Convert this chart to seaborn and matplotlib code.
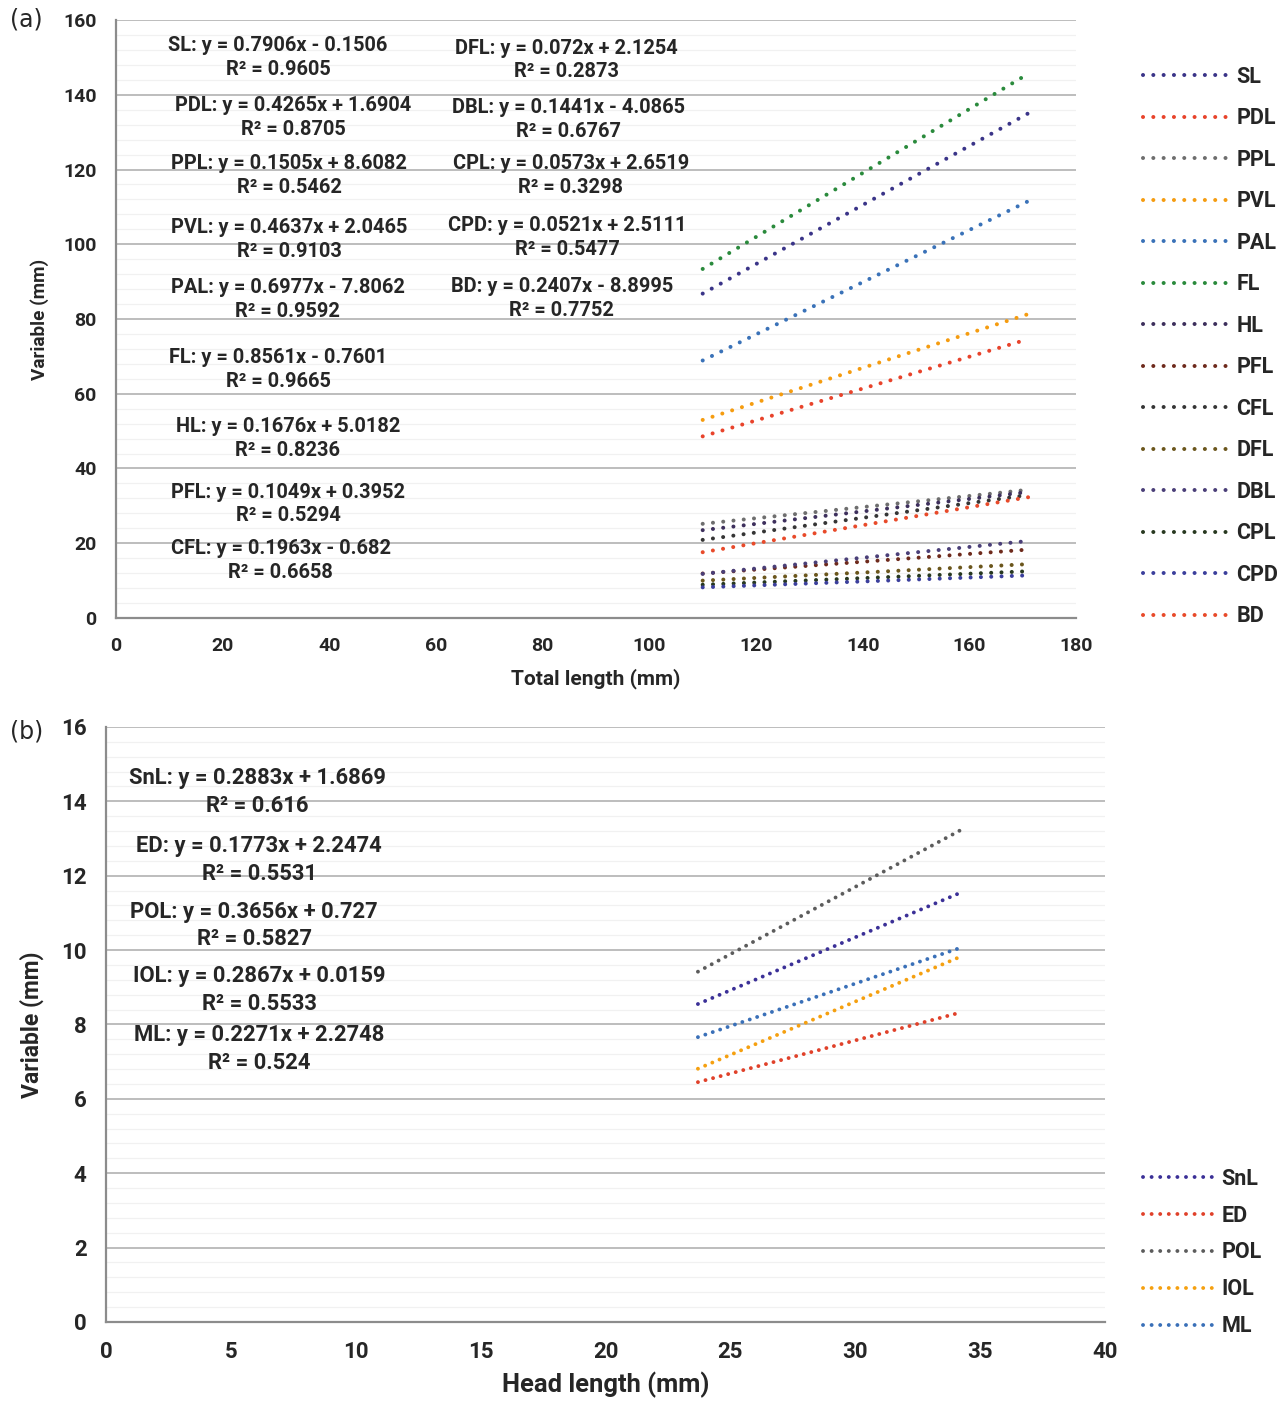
import numpy as np
import pandas as pd
import matplotlib
matplotlib.use("Agg")
import matplotlib.pyplot as plt
import seaborn as sns
from matplotlib.lines import Line2D
from matplotlib.ticker import MultipleLocator

# ---------------- data: panel (a) ----------------
a_names = ['SL', 'PDL', 'PPL', 'PVL', 'PAL', 'FL', 'HL', 'PFL', 'CFL', 'DFL', 'DBL', 'CPL', 'CPD', 'BD']
a_x = [110, 171]
a_y_start = [86.8, 48.6, 25.2, 53.0, 68.9, 93.4, 23.5, 11.9, 20.9, 10.0, 11.8, 8.9, 8.2, 17.6]
a_y_end = [135.0, 74.6, 34.3, 81.3, 111.5, 145.6, 33.7, 18.3, 32.9, 14.4, 20.6, 12.5, 11.4, 32.3]
a_colors = ['#3a3488', '#e8432b', '#6e6e6e', '#f59c10', '#3a72b8', '#2a8a3c', '#3d2f5c',
            '#6e2a1c', '#353535', '#6b561c', '#4a3f78', '#27381f', '#3b3f9c', '#e84a2a']
a_eq_left = ['SL: y = 0.7906x - 0.1506\nR² = 0.9605',
             'PDL: y = 0.4265x + 1.6904\nR² = 0.8705',
             'PPL: y = 0.1505x + 8.6082\nR² = 0.5462',
             'PVL: y = 0.4637x + 2.0465\nR² = 0.9103',
             'PAL: y = 0.6977x - 7.8062\nR² = 0.9592',
             'FL: y = 0.8561x - 0.7601\nR² = 0.9665',
             'HL: y = 0.1676x + 5.0182\nR² = 0.8236',
             'PFL: y = 0.1049x + 0.3952\nR² = 0.5294',
             'CFL: y = 0.1963x - 0.682\nR² = 0.6658']
a_eq_right = ['DFL: y = 0.072x + 2.1254\nR² = 0.2873',
              'DBL: y = 0.1441x - 4.0865\nR² = 0.6767',
              'CPL: y = 0.0573x + 2.6519\nR² = 0.3298',
              'CPD: y = 0.0521x + 2.5111\nR² = 0.5477',
              'BD: y = 0.2407x - 8.8995\nR² = 0.7752']

# ---------------- data: panel (b) ----------------
b_names = ['SnL', 'ED', 'POL', 'IOL', 'ML']
b_x = [23.7, 34.2]
b_y_start = [8.55, 6.45, 9.42, 6.81, 7.66]
b_y_end = [11.54, 8.32, 13.22, 9.82, 10.06]
b_colors = ['#3b3097', '#e0412a', '#5c5c5c', '#f5a010', '#3a70b8']
b_eq = ['SnL: y = 0.2883x + 1.6869\nR² = 0.616',
        'ED: y = 0.1773x + 2.2474\nR² = 0.5531',
        'POL: y = 0.3656x + 0.727\nR² = 0.5827',
        'IOL: y = 0.2867x + 0.0159\nR² = 0.5533',
        'ML: y = 0.2271x + 2.2748\nR² = 0.524']

# ---------------- layout (positions only) ----------------
a_eq_left_pos = [(30.4, 150.1), (33.3, 133.8), (32.5, 118.5), (32.5, 101.4), (32.2, 85.1),
                 (30.4, 66.4), (32.2, 47.9), (32.3, 30.5), (30.9, 15.5)]
a_eq_right_pos = [(84.4, 149.3), (84.9, 133.5), (85.3, 118.3), (84.6, 101.7), (83.6, 85.6)]
b_eq_pos = [(6.05, 14.25), (6.13, 12.42), (5.93, 10.66), (6.13, 8.93), (6.13, 7.34)]

sns.set_theme(style='white')
plt.rcParams['font.family'] = ['Roboto', 'DejaVu Sans']
plt.rcParams['font.weight'] = 'bold'

fig = plt.figure(figsize=(12.83, 14.01), dpi=100)
axa = fig.add_axes([0.0904, 0.5589, 0.7483, 0.4268])
axb = fig.add_axes([0.0826, 0.0564, 0.7787, 0.4247])


def long_df(names, xs, ys0, ys1):
    rows = []
    for n, y0, y1 in zip(names, ys0, ys1):
        rows.append((n, xs[0], y0))
        rows.append((n, xs[1], y1))
    return pd.DataFrame(rows, columns=['var', 'x', 'y'])


def style_axes(ax, xmax, xstep, ymax, ystep, yminor, fs):
    ax.set_xlim(0, xmax)
    ax.set_ylim(0, ymax)
    ax.xaxis.set_major_locator(MultipleLocator(xstep))
    ax.yaxis.set_major_locator(MultipleLocator(ystep))
    ax.yaxis.set_minor_locator(MultipleLocator(yminor))
    ax.grid(which='major', axis='y', color='#bdbdbd', lw=1.4, zorder=0)
    ax.grid(which='minor', axis='y', color='#f1f1f1', lw=0.9, zorder=0)
    ax.grid(which='major', axis='x', visible=False)
    ax.set_axisbelow(True)
    for s in ['top', 'right']:
        ax.spines[s].set_visible(False)
    for s in ['left', 'bottom']:
        ax.spines[s].set_color('#8c8c8c')
        ax.spines[s].set_linewidth(1.6)
    ax.tick_params(which='major', axis='both', direction='out', length=5, width=1.4,
                   color='#8c8c8c', labelsize=fs, pad=9)
    ax.tick_params(which='minor', length=0)
    for lab in ax.get_xticklabels() + ax.get_yticklabels():
        lab.set_fontweight('bold')


a_dots = (0, (0.01, 2.55))
b_dots = (0, (0.01, 2.0))

# panel (a)
dfa = long_df(a_names, a_x, a_y_start, a_y_end)
sns.lineplot(data=dfa, x='x', y='y', hue='var', hue_order=a_names,
             palette=dict(zip(a_names, a_colors)), linewidth=2.9,
             linestyle=a_dots, dash_capstyle='round', legend=False, ax=axa,
             estimator=None, sort=True)
style_axes(axa, 180, 20, 160, 20, 4, 14)
axa.set_xlabel('Total length (mm)', fontsize=15, fontweight='bold', labelpad=9)
axa.set_ylabel('Variable (mm)', fontsize=13.6, fontweight='bold', labelpad=10)
for txt, (x, y) in zip(a_eq_left + a_eq_right, a_eq_left_pos + a_eq_right_pos):
    axa.text(x, y, txt, ha='center', va='center', fontsize=14.4, fontweight='bold',
             multialignment='center', linespacing=1.33)
ha = [Line2D([0], [0], color=c, lw=2.9, linestyle=(0, (0.01, 2.55)), dash_capstyle='round')
      for c in a_colors]
axa.legend(ha, a_names, loc='center left', bbox_to_anchor=(1.07, 0.454), frameon=False,
           borderpad=0, borderaxespad=0, handlelength=3.95, handletextpad=0.37,
           labelspacing=0.905, prop={'weight': 'bold', 'size': 15.5})

# panel (b)
dfb = long_df(b_names, b_x, b_y_start, b_y_end)
sns.lineplot(data=dfb, x='x', y='y', hue='var', hue_order=b_names,
             palette=dict(zip(b_names, b_colors)), linewidth=2.8,
             linestyle=b_dots, dash_capstyle='round', legend=False, ax=axb,
             estimator=None, sort=True)
style_axes(axb, 40, 5, 16, 2, 0.4, 16)
axb.set_xlabel('Head length (mm)', fontsize=18.4, fontweight='bold', labelpad=6)
axb.set_ylabel('Variable (mm)', fontsize=16.5, fontweight='bold', labelpad=12)
for txt, (x, y) in zip(b_eq, b_eq_pos):
    axb.text(x, y, txt, ha='center', va='center', fontsize=15.8, fontweight='bold',
             multialignment='center', linespacing=1.32)
hb = [Line2D([0], [0], color=c, lw=2.8, linestyle=(0, (0.01, 2.2)), dash_capstyle='round')
      for c in b_colors]
axb.legend(hb, b_names, loc='center left', bbox_to_anchor=(1.038, 0.117), frameon=False,
           borderpad=0, borderaxespad=0, handlelength=3.3, handletextpad=0.35,
           labelspacing=0.69, prop={'weight': 'bold', 'size': 15.5})

fig.text(10 / 1283, 1 - 20 / 1401, '(a)', fontsize=17, fontweight='normal',
         ha='left', va='center', family=['DejaVu Sans'])
fig.text(10 / 1283, 1 - 731 / 1401, '(b)', fontsize=17, fontweight='normal',
         ha='left', va='center', family=['DejaVu Sans'])

fig.savefig('out.png', dpi=100, facecolor='white')
